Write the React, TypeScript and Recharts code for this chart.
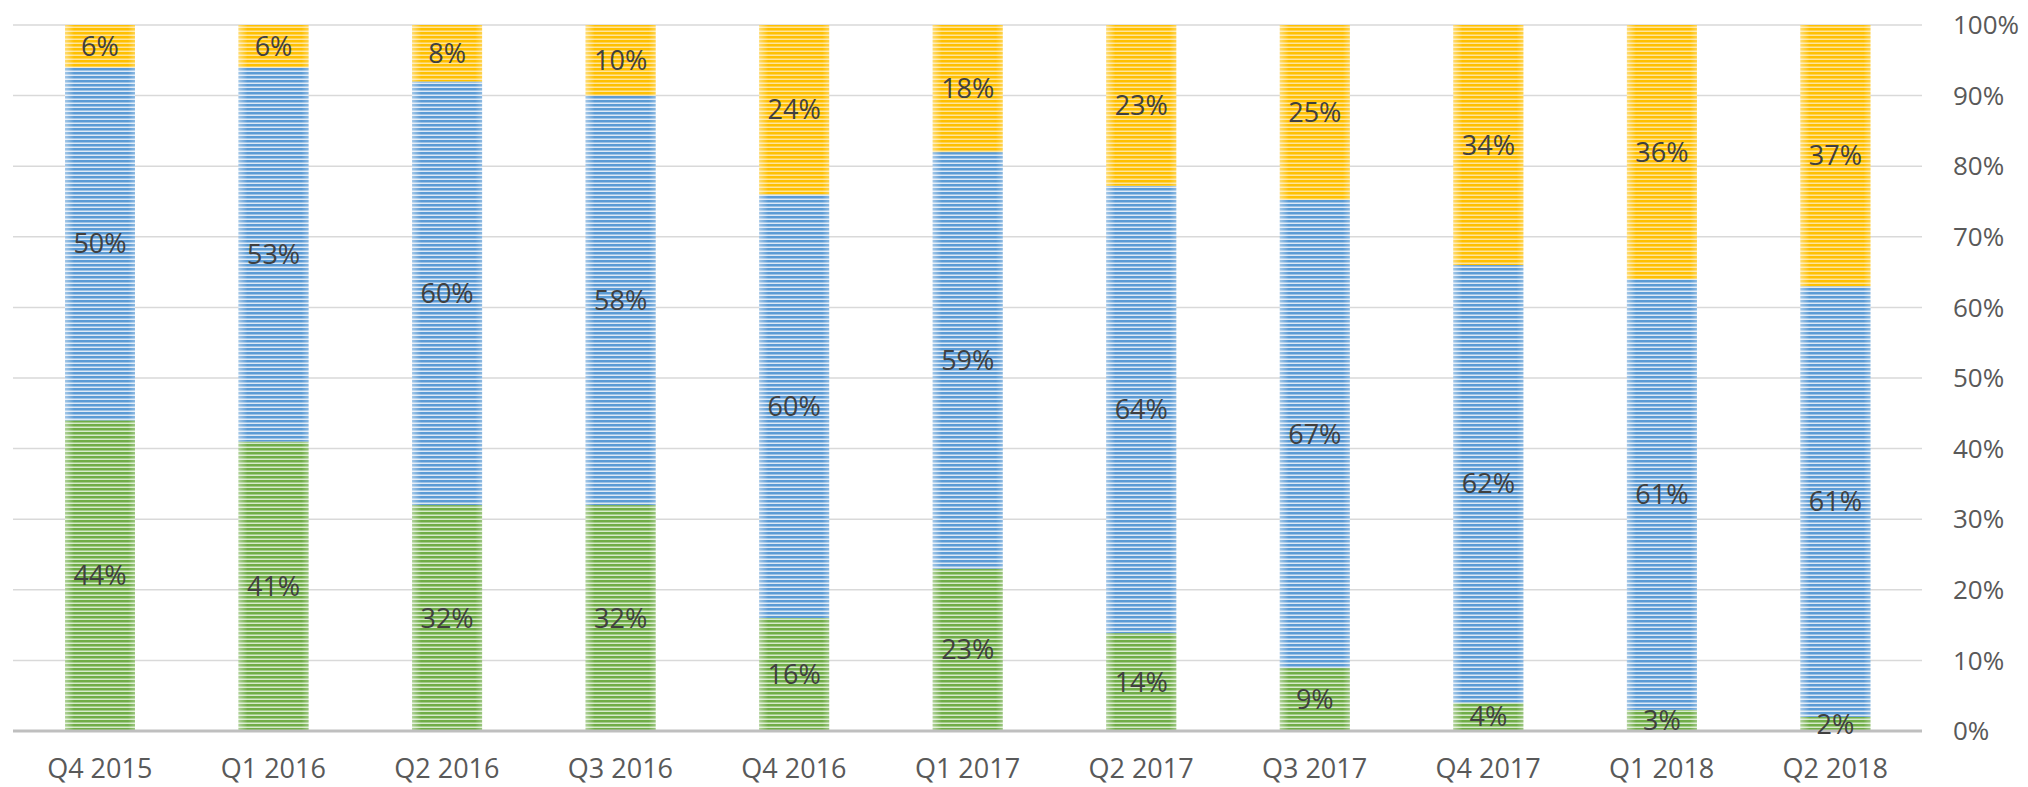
import React from "react";
import { BarChart, Bar, XAxis, YAxis, CartesianGrid, LabelList } from "recharts";

const categories = ["Q4 2015", "Q1 2016", "Q2 2016", "Q3 2016", "Q4 2016", "Q1 2017", "Q2 2017", "Q3 2017", "Q4 2017", "Q1 2018", "Q2 2018"];
const greenValues = [44, 41, 32, 32, 16, 23, 14, 9, 4, 3, 2];
const blueValues = [50, 53, 60, 58, 60, 59, 64, 67, 62, 61, 61];
const yellowValues = [6, 6, 8, 10, 24, 18, 23, 25, 34, 36, 37];
const yTicks = [0, 0.1, 0.2, 0.3, 0.4, 0.5, 0.6, 0.7, 0.8, 0.9, 1];

const data = categories.map((c, i) => ({
  name: c,
  green: greenValues[i],
  blue: blueValues[i],
  yellow: yellowValues[i],
}));

const FONT = "'Open Sans', 'DejaVu Sans', sans-serif";

const StripedBar = (props: any) => {
  const { x, y, width, height, fill } = props;
  if (!height || height <= 0) return null;
  return (
    <g>
      <rect x={x} y={y} width={width} height={height} fill={fill} />
      <rect x={x} y={y} width={width} height={height} fill="url(#edgeGlow)" />
    </g>
  );
};

const pct = (v: any) => `${v}%`;

export default function App() {
  return (
    <div style={{ position: "absolute", left: 0, top: 0, width: 2028, height: 787, background: "#fff" }}>
      <BarChart
        width={2028}
        height={787}
        data={data}
        stackOffset="expand"
        margin={{ top: 25, right: 0, bottom: 6, left: 13 }}
        barSize={70}
      >
        <defs>
          <pattern id="pat-green" patternUnits="userSpaceOnUse" width="8" height="4">
            <rect x="0" y="0" width="8" height="4" fill="#D6EACB" />
            <rect x="0" y="0" width="8" height="2.5" fill="#70AD47" />
          </pattern>
          <pattern id="pat-blue" patternUnits="userSpaceOnUse" width="8" height="4">
            <rect x="0" y="0" width="8" height="4" fill="#DDE9F6" />
            <rect x="0" y="0" width="8" height="2.5" fill="#5B9BD5" />
          </pattern>
          <pattern id="pat-yellow" patternUnits="userSpaceOnUse" width="8" height="4">
            <rect x="0" y="0" width="8" height="4" fill="#FFE49A" />
            <rect x="0" y="0" width="8" height="2.5" fill="#FFC000" />
          </pattern>
          <linearGradient id="edgeGlow" x1="0" y1="0" x2="1" y2="0">
            <stop offset="0" stopColor="#ffffff" stopOpacity="0.45" />
            <stop offset="0.13" stopColor="#ffffff" stopOpacity="0" />
            <stop offset="0.9" stopColor="#ffffff" stopOpacity="0" />
            <stop offset="1" stopColor="#ffffff" stopOpacity="0.3" />
          </linearGradient>
        </defs>
        <CartesianGrid vertical={false} stroke="#D9D9D9" strokeWidth={1.5} />
        <XAxis
          dataKey="name"
          axisLine={{ stroke: "#BFBFBF", strokeWidth: 3 }}
          tickLine={false}
          tickSize={0}
          tickMargin={28}
          height={50}
          interval={0}
          tick={{ fill: "#595959", fontSize: 27, fontFamily: FONT }}
        />
        <YAxis
          orientation="right"
          width={106}
          domain={[0, 1]}
          ticks={yTicks}
          interval={0}
          axisLine={false}
          tickLine={false}
          tickSize={0}
          tickMargin={31}
          tickFormatter={(v: number) => `${Math.round(v * 100)}%`}
          tick={{ fill: "#595959", fontSize: 26, fontFamily: FONT, textAnchor: "start" }}
        />
        <Bar dataKey="green" stackId="a" fill="url(#pat-green)" shape={StripedBar} isAnimationActive={false}>
          <LabelList dataKey="green" position="center" formatter={pct} fill="#404040" fontSize={27} fontFamily={FONT} />
        </Bar>
        <Bar dataKey="blue" stackId="a" fill="url(#pat-blue)" shape={StripedBar} isAnimationActive={false}>
          <LabelList dataKey="blue" position="center" formatter={pct} fill="#404040" fontSize={27} fontFamily={FONT} />
        </Bar>
        <Bar dataKey="yellow" stackId="a" fill="url(#pat-yellow)" shape={StripedBar} isAnimationActive={false}>
          <LabelList dataKey="yellow" position="center" formatter={pct} fill="#404040" fontSize={27} fontFamily={FONT} />
        </Bar>
      </BarChart>
    </div>
  );
}
